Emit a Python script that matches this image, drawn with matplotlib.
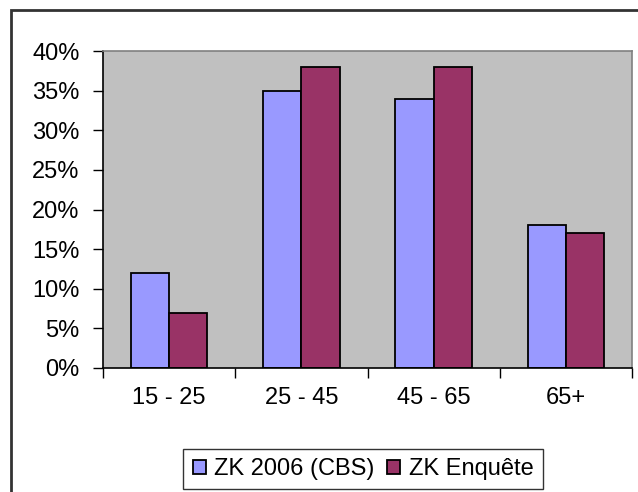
import matplotlib
matplotlib.use("Agg")
import matplotlib.pyplot as plt
import numpy as np
from matplotlib.patches import Rectangle
from matplotlib.ticker import FuncFormatter, FixedLocator

categories = ["15 - 25", "25 - 45", "45 - 65", "65+"]
series_names = ["ZK 2006 (CBS)", "ZK Enquête"]
cbs = [12, 35, 34, 18]
enquete = [7, 38, 38, 17]
colors = ["#9999FF", "#993366"]

plt.rcParams['font.family'] = ['Liberation Sans', 'DejaVu Sans']
FS = 17

W, H = 638, 492
fig = plt.figure(figsize=(W/100, H/100), dpi=100)

# outer chart border
fig.patches.append(Rectangle((11/W, -0.05), 1.1, 1 - 10/H + 0.05, transform=fig.transFigure,
                             fill=False, edgecolor="#333333", linewidth=2, zorder=0))

left, right, top, bottom = 103, 632, 51, 368
ax = fig.add_axes([left/W, 1 - bottom/H, (right-left)/W, (bottom-top)/H])
ax.set_facecolor("#C0C0C0")

x = np.arange(len(categories))
bw = 0.29
ax.bar(x - bw/2, cbs, bw, color=colors[0], edgecolor="black", linewidth=1.3, label=series_names[0], zorder=2)
ax.bar(x + bw/2, enquete, bw, color=colors[1], edgecolor="black", linewidth=1.3, label=series_names[1], zorder=2)

ax.set_xlim(-0.5, len(categories) - 0.5)
ax.set_ylim(0, 40)
ax.set_yticks(np.arange(0, 41, 5))
ax.yaxis.set_major_formatter(FuncFormatter(lambda v, p: f"{int(v)}%"))
ax.xaxis.set_major_locator(FixedLocator(np.arange(-0.5, len(categories), 1)))
ax.xaxis.set_major_formatter(FuncFormatter(lambda v, p: ""))
ax.xaxis.set_minor_locator(FixedLocator(x))
ax.set_xticklabels(categories, minor=True)
ax.tick_params(axis='x', which='minor', length=0, pad=14, labelsize=FS)
ax.tick_params(axis='x', which='major', length=7, width=1, direction='out', color='black')
ax.tick_params(axis='y', length=7, width=1, direction='out', labelsize=FS, pad=10)

ax.spines['left'].set_color('black')
ax.spines['bottom'].set_color('black')
ax.spines['top'].set_color('#808080')
ax.spines['right'].set_color('#808080')
for s in ax.spines.values():
    s.set_linewidth(1.2)

leg = fig.legend(loc='center', bbox_to_anchor=(363/W, 1 - 469/H), ncol=2, frameon=True,
                 fancybox=False, edgecolor='black', fontsize=FS, handlelength=0.55,
                 handleheight=0.55, handletextpad=0.35, columnspacing=0.55, borderpad=0.4,
                 borderaxespad=0)
leg.get_frame().set_linewidth(1.0)

fig.savefig("out.png", dpi=100)
